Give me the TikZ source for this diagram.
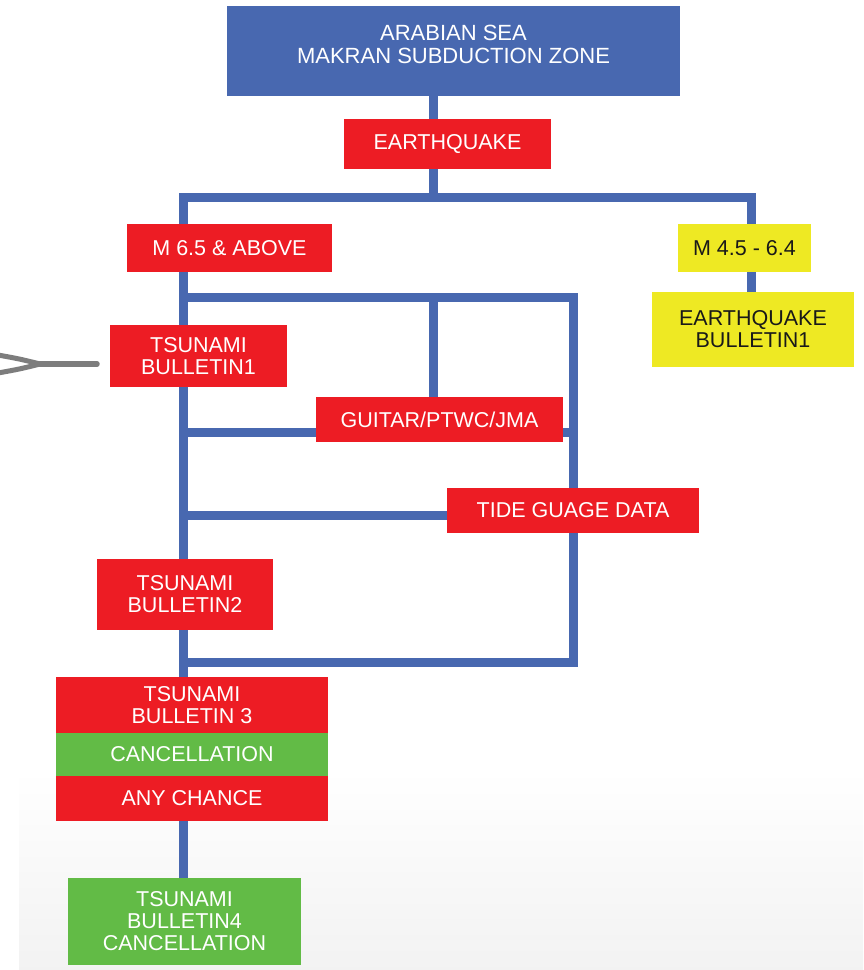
\documentclass[tikz,border=0pt]{standalone}
\usepackage{fontspec}
\setmainfont{Liberation Sans}
\usetikzlibrary{backgrounds}
\pgfdeclarelayer{bottom}
\pgfsetlayers{bottom,background,main}
\definecolor{cblue}{RGB}{72,104,176}
\definecolor{cred}{RGB}{237,28,36}
\definecolor{cgreen}{RGB}{98,187,70}
\definecolor{cyellow}{RGB}{238,233,35}
\definecolor{cgrey}{RGB}{125,125,125}
\tikzset{
  box/.style={inner sep=0pt, align=center, font=\fontsize{21.5}{22}\selectfont},
  redbox/.style={box, fill=cred, text=white},
  greenbox/.style={box, fill=cgreen, text=white},
  bluebox/.style={box, fill=cblue, text=white},
  yellowbox/.style={box, fill=cyellow, text=black!90},
  link/.style={draw=cblue, line width=9pt, line join=miter, line cap=butt},
}
\begin{document}
\begin{tikzpicture}[x=1pt,y=-1pt]
\useasboundingbox (0,0) rectangle (863,970);
\begin{pgfonlayer}{bottom}
\shade[top color=white, bottom color=black!5] (19,770) rectangle (863,970);
\end{pgfonlayer}
% nodes
\node[bluebox, minimum width=453pt, minimum height=90pt, font=\fontsize{22}{23}\selectfont] (top) at (453.5,51) {\raisebox{-2pt}[0pt][0pt]{\begin{tabular}{@{}c@{}}ARABIAN SEA\\MAKRAN SUBDUCTION ZONE\end{tabular}}};
\node[redbox, minimum width=207pt, minimum height=50pt] (eq) at (447.5,144) {EARTHQUAKE};
\node[redbox, minimum width=205pt, minimum height=48pt] (m65) at (229.5,248) {M 6.5 \& ABOVE};
\node[yellowbox, minimum width=133pt, minimum height=48pt] (m45) at (744.5,248) {M 4.5 - 6.4};
\node[yellowbox, minimum width=202pt, minimum height=75pt] (eqb1) at (753,329.5) {EARTHQUAKE\\BULLETIN1};
\node[redbox, minimum width=177pt, minimum height=62pt] (tb1) at (198.5,356) {TSUNAMI\\BULLETIN1};
\node[redbox, minimum width=247pt, minimum height=45pt] (guitar) at (439.5,419.5) {GUITAR/PTWC/JMA};
\node[redbox, minimum width=252pt, minimum height=45pt] (tide) at (573,510.5) {TIDE GUAGE DATA};
\node[redbox, minimum width=176pt, minimum height=71pt] (tb2) at (185,594.5) {TSUNAMI\\BULLETIN2};
\node[redbox, minimum width=272pt, minimum height=56pt] (tb3) at (192,705) {TSUNAMI\\BULLETIN 3};
\node[greenbox, minimum width=272pt, minimum height=43pt] (canc) at (192,754.5) {CANCELLATION};
\node[redbox, minimum width=272pt, minimum height=45pt] (any) at (192,798.5) {ANY CHANCE};
\node[greenbox, minimum width=233pt, minimum height=87pt] (tb4) at (184.5,921.5) {TSUNAMI\\BULLETIN4\\CANCELLATION};
% junction coordinates
\coordinate (c1) at (433,197);
\coordinate (L1) at (183,197);
\coordinate (R1) at (751,197);
\coordinate (L2) at (183,297);
\coordinate (R2) at (573,297);
\coordinate (M2) at (433,297);
\coordinate (R3) at (573,662);
\coordinate (L3) at (183,662);
\coordinate (g) at (0,432);
\coordinate (t) at (0,515);
\coordinate (a1) at (97,364);
\coordinate (a0) at (40,364);
\coordinate (a2) at (-2,355);
\coordinate (a3) at (-2,373);
\begin{scope}[on background layer]
\draw[link] (top.south -| c1) -- (eq.north -| c1);
\draw[link] (eq.south -| c1) -- (c1);
\draw[link] (tb3.north -| L1) -- (L1) -- (R1) -- (eqb1.north -| R1);
\draw[link] (L2) -- (R2) -- (R3) -- (L3);
\draw[link] (M2) -- (guitar.north -| M2);
\draw[link] (L1 |- g) -- (R2 |- g);
\draw[link] (L1 |- t) -- (tide.west |- t);
\draw[link] (any.south -| L1) -- (tb4.north -| L1);
\end{scope}
\draw[cgrey, line width=5.5pt, line cap=round] (a1) -- (a0);
\draw[cgrey, line width=5pt, line join=round] (a2) .. controls (20,359) .. (a0) .. controls (20,369) .. (a3);
\end{tikzpicture}
\end{document}
